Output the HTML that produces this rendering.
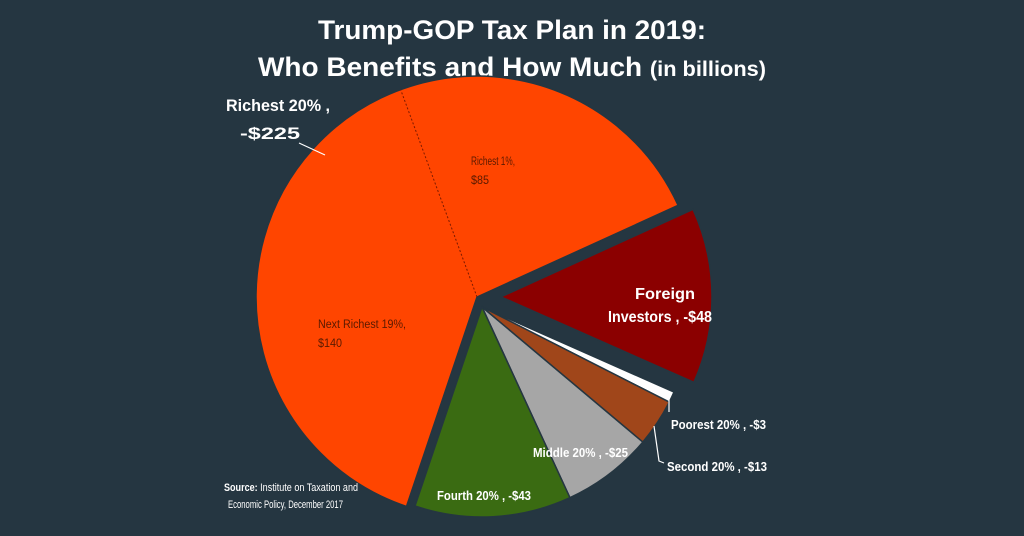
<!DOCTYPE html>
<html><head><meta charset="utf-8"><style>
html,body{margin:0;padding:0;background:#253641;}
svg{display:block;}
text{font-family:"Liberation Sans Narrow","Liberation Sans",sans-serif;}
</style></head><body>
<svg id="chart" width="1024" height="536" viewBox="0 0 1024 536" xmlns="http://www.w3.org/2000/svg">
<rect width="1024" height="536" fill="#253641"/>
<text x="318" y="39" textLength="388" lengthAdjust="spacingAndGlyphs" fill="#fff" font-size="27" font-weight="bold">Trump-GOP Tax Plan in 2019:</text>
<text x="258" y="76" textLength="508" lengthAdjust="spacingAndGlyphs" fill="#fff" font-size="27" font-weight="bold">Who Benefits and How Much <tspan font-size="21">(in billions)</tspan></text>
<g id="slices"></g>
<g id="labels">
<text x="226" y="111" textLength="104" lengthAdjust="spacingAndGlyphs" fill="#fff" font-size="17" font-weight="bold">Richest 20% ,</text>
<text x="240" y="139" textLength="60" lengthAdjust="spacingAndGlyphs" fill="#fff" font-size="17" font-weight="bold">-$225</text>
<polyline points="299,143 325,155" fill="none" stroke="#fff" stroke-width="1.2"/>
<text x="471" y="165" textLength="44" lengthAdjust="spacingAndGlyphs" fill="#5a1a00" font-size="11.5">Richest 1%,</text>
<text x="471" y="184" textLength="18" lengthAdjust="spacingAndGlyphs" fill="#5a1a00" font-size="11.5">$85</text>
<text x="318" y="328" textLength="88" lengthAdjust="spacingAndGlyphs" fill="#5a1a00" font-size="11.5">Next Richest 19%,</text>
<text x="318" y="347" textLength="24" lengthAdjust="spacingAndGlyphs" fill="#5a1a00" font-size="11.5">$140</text>
<text x="635" y="299" textLength="60" lengthAdjust="spacingAndGlyphs" fill="#fff" font-size="16" font-weight="bold">Foreign</text>
<text x="608" y="322" textLength="104" lengthAdjust="spacingAndGlyphs" fill="#fff" font-size="16" font-weight="bold">Investors , -$48</text>
<text x="671" y="429" textLength="95" lengthAdjust="spacingAndGlyphs" fill="#fff" font-size="13" font-weight="bold">Poorest 20% , -$3</text>
<polyline points="669,398 669,412" fill="none" stroke="#fff" stroke-width="1.2"/>
<text x="667" y="471" textLength="100" lengthAdjust="spacingAndGlyphs" fill="#fff" font-size="13" font-weight="bold">Second 20% , -$13</text>
<polyline points="654,426 659,461 664,463" fill="none" stroke="#fff" stroke-width="1.2"/>
<text x="533" y="457" textLength="95" lengthAdjust="spacingAndGlyphs" fill="#fff" font-size="13" font-weight="bold">Middle 20% , -$25</text>
<text x="437" y="500" textLength="94" lengthAdjust="spacingAndGlyphs" fill="#fff" font-size="13" font-weight="bold">Fourth 20% , -$43</text>
<text x="224" y="491" textLength="134" lengthAdjust="spacingAndGlyphs" fill="#fff" font-size="11"><tspan font-weight="bold">Source:</tspan> Institute on Taxation and</text>
<text x="228" y="508" textLength="115" lengthAdjust="spacingAndGlyphs" fill="#fff" font-size="11">Economic Policy, December 2017</text>
</g>
</svg>
<script>
const categories = ["Richest 20%", "Foreign Investors", "Poorest 20%", "Second 20%", "Middle 20%", "Fourth 20%"];
const values = [225, 48, 3, 13, 25, 43];
const subValues = [85, 140];
const colors = ["#ff4500", "#8b0000", "#ffffff", "#a0461a", "#a6a6a6", "#3a6b12"];

const cx = 477, cy = 297;
const total = values.reduce((a, b) => a + b, 0);
const startAngle = 65.5 - values[0] / total * 360; // degrees clockwise from top
function pt(x, y, deg, r) {
  const a = deg * Math.PI / 180;
  return [x + r * Math.sin(a), y - r * Math.cos(a)];
}
const g = document.getElementById('slices');
let a0 = startAngle;
values.forEach((v, i) => {
  const sweep = v / total * 360;
  const a1 = a0 + sweep;
  const mid = (a0 + a1) / 2;
  let ox, oy, R;
  if (i === 0) { ox = cx; oy = cy; R = 221; }
  else if (i === 1) { [ox, oy] = pt(cx, cy, mid, 24); R = 211; }
  else { ox = cx + 5; oy = cy + 10; R = 210; }
  const p0 = pt(ox, oy, a0, R), p1 = pt(ox, oy, a1, R);
  const large = sweep > 180 ? 1 : 0;
  const path = document.createElementNS('http://www.w3.org/2000/svg', 'path');
  path.setAttribute('d', `M${ox},${oy} L${p0[0]},${p0[1]} A${R},${R} 0 ${large} 1 ${p1[0]},${p1[1]} Z`);
  path.setAttribute('fill', colors[i]);
  path.setAttribute('stroke', '#253641');
  path.setAttribute('stroke-width', '1.5');
  
  
  g.appendChild(path);
  a0 = a1;
});
// dashed divider between Richest 1% and Next Richest 19%
const divA = 65.5 - subValues[0] / total * 360;
const dp = pt(cx, cy, divA, 221);
const line = document.createElementNS('http://www.w3.org/2000/svg', 'line');
line.setAttribute('x1', cx); line.setAttribute('y1', cy);
line.setAttribute('x2', dp[0]); line.setAttribute('y2', dp[1]);
line.setAttribute('stroke', '#7a1a00');
line.setAttribute('stroke-width', '1');
line.setAttribute('stroke-dasharray', '2,2');


g.appendChild(line);
</script>
</body></html>
